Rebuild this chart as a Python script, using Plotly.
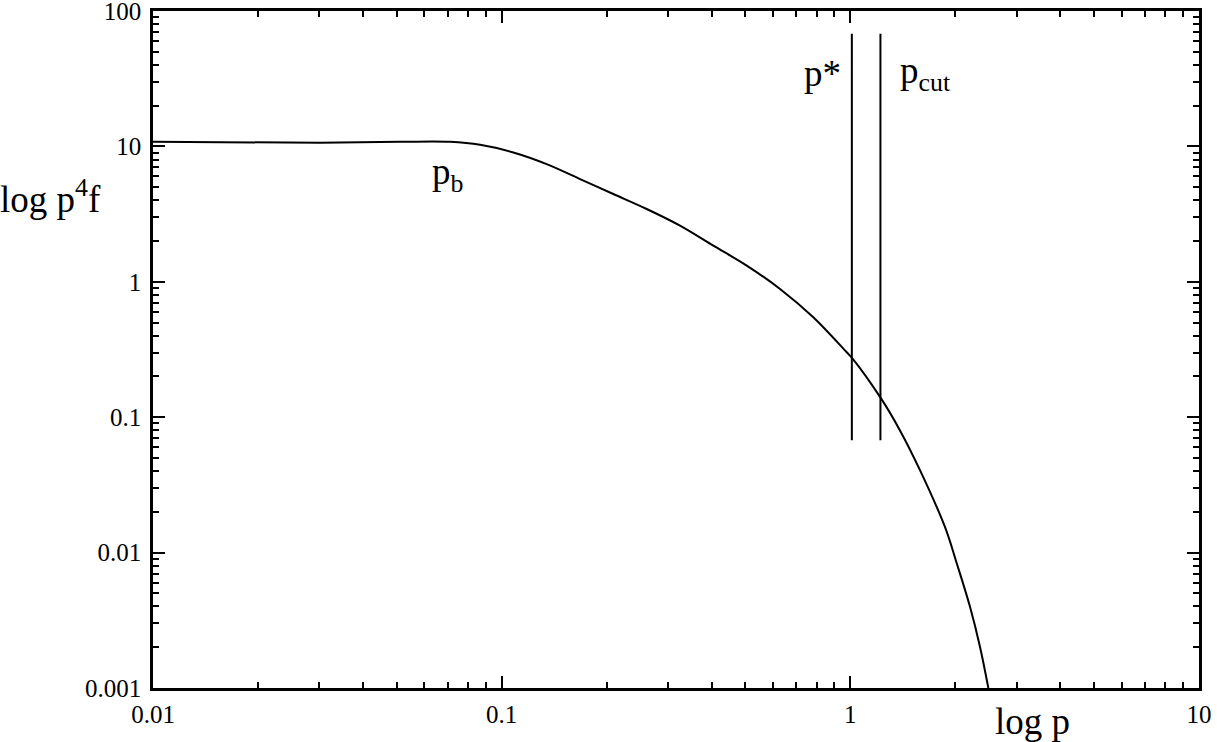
import plotly.graph_objects as go

# curve (p, p^4 f)
p_vals = [0.01, 0.0301, 0.0511, 0.0711, 0.0867, 0.108, 0.1346, 0.1678, 0.209,
          0.2606, 0.3247, 0.4046, 0.5044, 0.6286, 0.783, 0.976, 1.016, 1.222,
          1.388, 1.585, 1.868, 2.019, 2.204, 2.354, 2.488]
f_vals = [10.8, 10.65, 10.8, 10.8, 10.27, 9.02, 7.40, 5.74, 4.45,
          3.45, 2.60, 1.849, 1.317, 0.886, 0.547, 0.302, 0.270, 0.1388,
          0.0799, 0.0405, 0.01547, 0.00835, 0.00398, 0.00202, 0.001]

# marker lines p* and p_cut
p_star = 1.01
p_cut = 1.22
mark_y = [0.0675, 68]

x_ticks = [0.01, 0.1, 1, 10]
x_labels = ["0.01", "0.1", "1", "10"]
y_ticks = [0.001, 0.01, 0.1, 1, 10, 100]
y_labels = ["0.001", "0.01", "0.1", "1", "10", "100"]

serif = "Liberation Serif, Times New Roman, serif"


def minor_vals(ticks):
    out = []
    for t in ticks[:-1]:
        out += [t * k for k in range(2, 10)]
    return out


fig = go.Figure()
fig.add_trace(go.Scatter(x=p_vals, y=f_vals, mode="lines",
                         line=dict(color="black", width=2, shape="spline", smoothing=1.0)))
fig.add_trace(go.Scatter(x=[p_star, p_star], y=mark_y, mode="lines", line=dict(color="black", width=2)))
fig.add_trace(go.Scatter(x=[p_cut, p_cut], y=mark_y, mode="lines", line=dict(color="black", width=2)))

axis_style = dict(
    type="log", showgrid=False, zeroline=False, automargin=False,
    showline=True, linecolor="black", linewidth=2.5, mirror="allticks",
    ticks="inside", ticklen=12, tickwidth=2, tickcolor="black",
    tickfont=dict(family=serif, size=25, color="black"),
    ticklabeloverflow="allow",
)

fig.update_xaxes(range=[-2, 1], tickmode="array", tickvals=x_ticks, ticktext=x_labels,
                 minor=dict(tickmode="array", tickvals=minor_vals(x_ticks), ticks="inside",
                            ticklen=6, tickwidth=2, tickcolor="black", showgrid=False),
                 ticklabelstandoff=2, **axis_style)
fig.update_yaxes(range=[-3, 2], tickmode="array", tickvals=y_ticks, ticktext=y_labels,
                 minor=dict(tickmode="array", tickvals=minor_vals(y_ticks), ticks="inside",
                            ticklen=6, tickwidth=2, tickcolor="black", showgrid=False),
                 ticklabelstandoff=4, **axis_style)

lab = dict(family=serif, size=37, color="black")
fig.add_annotation(x=-0.021, y=1.536, xref="x", yref="y", text="p*", showarrow=False,
                   xanchor="right", yanchor="middle", font=lab)
fig.add_annotation(x=0.137, y=1.536, xref="x", yref="y", text="p<sub>cut</sub>", showarrow=False,
                   xanchor="left", yanchor="middle", font=lab)
fig.add_annotation(x=-1.205, y=0.789, xref="x", yref="y", text="p<sub>b</sub>", showarrow=False,
                   xanchor="left", yanchor="middle", font=lab)
fig.add_annotation(x=-0.148, y=0.7256, xref="paper", yref="paper", text="log p<sup>4</sup>f",
                   showarrow=False, xanchor="left", yanchor="middle", font=lab)
fig.add_annotation(x=0.803, y=-0.05, xref="paper", yref="paper", text="log p",
                   showarrow=False, xanchor="left", yanchor="middle", font=lab)

fig.update_layout(
    width=1217, height=742,
    margin=dict(l=153, r=18, t=11, b=54),
    plot_bgcolor="white", paper_bgcolor="white",
    showlegend=False,
)

fig.write_html("out.html", config={"displayModeBar": False},
               post_script="document.body.style.margin='0';")
